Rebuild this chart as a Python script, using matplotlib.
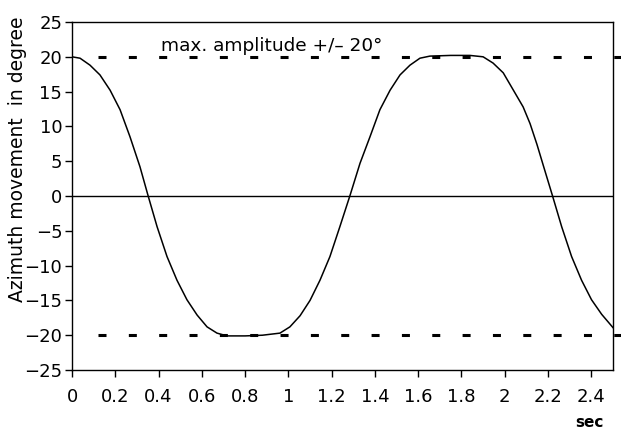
import matplotlib
matplotlib.use('Agg')
import matplotlib.pyplot as plt

plt.rcParams['font.family'] = ['DejaVu Sans']

# Azimuth movement (time in sec, angle in degree)
tiempo = [0.0, 0.037, 0.083, 0.129, 0.176, 0.222, 0.268, 0.314, 0.351, 0.393,
          0.439, 0.485, 0.531, 0.578, 0.624, 0.67, 0.716, 0.80, 0.88, 0.961,
          1.007, 1.054, 1.10, 1.146, 1.192, 1.238, 1.285, 1.331, 1.377, 1.423,
          1.47, 1.516, 1.562, 1.608, 1.654, 1.75, 1.839, 1.90, 1.946, 1.993,
          2.04, 2.085, 2.117, 2.149, 2.18, 2.221, 2.263, 2.309, 2.355, 2.401,
          2.448, 2.50]
azimut = [20.0, 19.8, 18.8, 17.4, 15.2, 12.4, 8.5, 4.2, 0.1, -4.4,
          -8.7, -12.1, -14.9, -17.1, -18.8, -19.7, -20.1, -20.1, -20.0, -19.7,
          -18.8, -17.2, -15.0, -12.1, -8.7, -4.4, 0.1, 4.7, 8.5, 12.4,
          15.2, 17.4, 18.8, 19.8, 20.1, 20.2, 20.2, 20.0, 19.1, 17.7,
          15.2, 12.8, 10.4, 7.4, 4.2, 0.0, -4.4, -8.7, -12.1, -14.9,
          -17.0, -18.9]

amplitud = 20
xticks = [0, 0.2, 0.4, 0.6, 0.8, 1, 1.2, 1.4, 1.6, 1.8, 2, 2.2, 2.4]
xlabels = ['0', '0.2', '0.4', '0.6', '0.8', '1', '1.2', '1.4', '1.6', '1.8', '2', '2.2', '2.4']
yticks = [25, 20, 15, 10, 5, 0, -5, -10, -15, -20, -25]

fig = plt.figure(figsize=(6.21, 4.29), dpi=100)
ax = fig.add_axes([0.116, 0.1375, 0.871, 0.8112])

ax.plot(tiempo, azimut, color='black', linewidth=1.1)
ax.axhline(0, color='black', linewidth=1.0)
# dashed limit lines, running a little past the right frame as in the original
for nivel in (amplitud, -amplitud):
    ax.plot([0.1205, 2.5415], [nivel, nivel], color='black', linewidth=2.2,
            dashes=(2.62, 7.31), clip_on=False)

ax.set_xlim(0, 2.5)
ax.set_ylim(-25, 25)
ax.set_xticks(xticks)
ax.set_xticklabels(xlabels)
ax.set_yticks(yticks)
ax.tick_params(axis='both', direction='out', length=5, width=1, labelsize=13, pad=8)
ax.tick_params(axis='y', pad=2)

ax.set_ylabel('Azimuth movement  in degree', fontsize=13.5)
ax.yaxis.set_label_coords(-0.083, 0.605)
ax.text(0.957, -0.15, 'sec', transform=ax.transAxes, ha='center', va='center',
        fontsize=11, fontweight='bold')
ax.text(0.41, 20.9, 'max. amplitude +/\u2013 20\u00b0', fontsize=13.3, ha='left', va='baseline')

for sp in ax.spines.values():
    sp.set_linewidth(1.0)

fig.savefig('out.png', dpi=100)
